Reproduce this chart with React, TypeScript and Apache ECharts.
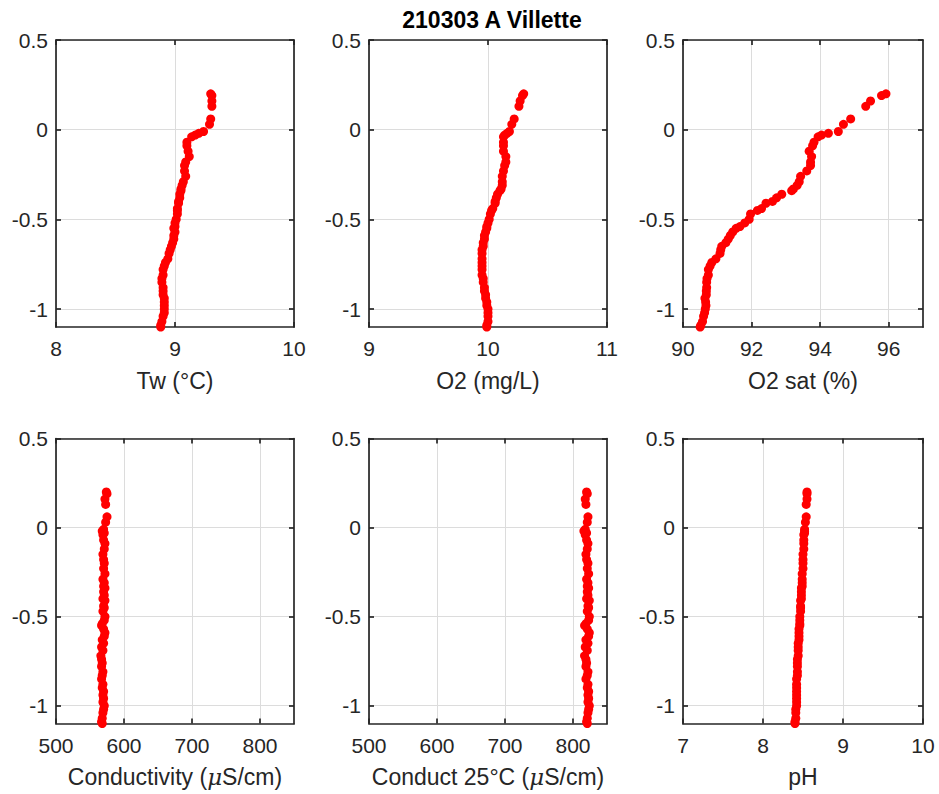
import React, { useEffect, useRef } from "react";
import * as echarts from "echarts";

const depth = [0.2, 0.19, 0.16, 0.13, 0.06, 0.03, -0.01, -0.02, -0.03, -0.04, -0.07, -0.09, -0.12, -0.15, -0.18, -0.2, -0.23, -0.26, -0.29, -0.31, -0.33, -0.34, -0.36, -0.38, -0.4, -0.41, -0.44, -0.45, -0.47, -0.5, -0.52, -0.54, -0.55, -0.57, -0.59, -0.61, -0.63, -0.65, -0.67, -0.69, -0.72, -0.74, -0.76, -0.78, -0.81, -0.83, -0.85, -0.88, -0.9, -0.92, -0.94, -0.96, -0.98, -1.0, -1.02, -1.04, -1.07, -1.09, -1.1];

const tw = [9.3, 9.31, 9.31, 9.31, 9.3, 9.29, 9.24, 9.2, 9.17, 9.14, 9.1, 9.1, 9.11, 9.12, 9.09, 9.08, 9.08, 9.09, 9.07, 9.06, 9.05, 9.05, 9.04, 9.04, 9.03, 9.03, 9.02, 9.02, 9.02, 9.01, 9.0, 9.0, 8.99, 9.0, 8.99, 8.99, 8.98, 8.97, 8.96, 8.95, 8.94, 8.92, 8.91, 8.9, 8.9, 8.89, 8.89, 8.9, 8.9, 8.9, 8.91, 8.91, 8.91, 8.91, 8.91, 8.9, 8.89, 8.88, 8.88];

const o2 = [10.3, 10.29, 10.27, 10.26, 10.22, 10.2, 10.18, 10.16, 10.14, 10.13, 10.13, 10.13, 10.13, 10.15, 10.15, 10.14, 10.13, 10.12, 10.12, 10.12, 10.11, 10.1, 10.08, 10.07, 10.06, 10.06, 10.04, 10.03, 10.02, 10.01, 10.0, 9.99, 9.99, 9.98, 9.97, 9.97, 9.96, 9.96, 9.95, 9.95, 9.95, 9.95, 9.95, 9.95, 9.95, 9.96, 9.96, 9.97, 9.97, 9.98, 9.98, 9.99, 9.99, 10.0, 10.0, 10.0, 10.0, 9.99, 9.99];

const o2sat = [95.92, 95.79, 95.47, 95.33, 94.89, 94.68, 94.53, 94.24, 94.04, 93.94, 93.82, 93.78, 93.68, 93.75, 93.72, 93.72, 93.61, 93.43, 93.39, 93.33, 93.22, 93.17, 92.88, 92.73, 92.61, 92.42, 92.29, 92.17, 91.97, 91.93, 91.8, 91.66, 91.55, 91.45, 91.38, 91.32, 91.25, 91.13, 91.1, 91.08, 90.96, 90.84, 90.79, 90.74, 90.74, 90.7, 90.69, 90.69, 90.68, 90.68, 90.64, 90.66, 90.67, 90.65, 90.63, 90.6, 90.57, 90.52, 90.5];

const cond = [574, 575, 572, 573, 575, 573, 570, 568, 571, 569, 570, 572, 571, 569, 570, 571, 570, 572, 569, 571, 570, 572, 570, 571, 569, 572, 570, 571, 569, 572, 571, 568, 567, 570, 572, 571, 568, 570, 567, 569, 566, 567, 568, 567, 569, 568, 567, 569, 568, 570, 569, 570, 569, 571, 570, 569, 568, 567, 568];

const cond25 = [820, 821, 818, 819, 822, 821, 818, 816, 820, 818, 820, 822, 821, 819, 820, 822, 821, 823, 820, 822, 821, 823, 821, 822, 820, 824, 822, 823, 821, 824, 823, 819, 817, 821, 824, 823, 819, 822, 818, 821, 817, 819, 820, 819, 822, 821, 819, 822, 821, 823, 822, 823, 822, 824, 823, 822, 821, 820, 821];

const ph = [8.55, 8.55, 8.55, 8.54, 8.54, 8.53, 8.52, 8.52, 8.52, 8.51, 8.51, 8.51, 8.51, 8.5, 8.5, 8.5, 8.5, 8.49, 8.49, 8.49, 8.49, 8.48, 8.48, 8.48, 8.48, 8.47, 8.47, 8.47, 8.47, 8.46, 8.46, 8.46, 8.46, 8.45, 8.45, 8.45, 8.45, 8.44, 8.44, 8.44, 8.44, 8.43, 8.43, 8.43, 8.43, 8.43, 8.42, 8.42, 8.42, 8.42, 8.42, 8.42, 8.42, 8.42, 8.41, 8.41, 8.41, 8.4, 8.4];

const depthTicks = [-1, -0.5, 0, 0.5];
const twTicks = [8, 9, 10];
const o2Ticks = [9, 10, 11];
const satTicks = [90, 92, 94, 96];
const condTicks = [500, 600, 700, 800];
const phTicks = [7, 8, 9, 10];

const titleText = "210303 A Villette";

const panels = [
  { name: "Tw (°C)", values: tw, min: 8, max: 10, interval: 1, ticks: twTicks },
  { name: "O2 (mg/L)", values: o2, min: 9, max: 11, interval: 1, ticks: o2Ticks },
  { name: "O2 sat (%)", values: o2sat, min: 90, max: 97, interval: 2, ticks: satTicks },
  { name: "Conductivity ({mu|μ}S/cm)", values: cond, min: 500, max: 850, interval: 100, ticks: condTicks },
  { name: "Conduct 25°C ({mu|μ}S/cm)", values: cond25, min: 500, max: 850, interval: 100, ticks: condTicks },
  { name: "pH", values: ph, min: 7, max: 10, interval: 1, ticks: phTicks },
];

const FONT = "Liberation Sans, Arial, Helvetica, sans-serif";
const AX = "#262626";

export default function App() {
  const ref = useRef<HTMLDivElement>(null);
  useEffect(() => {
    if (!ref.current) return;
    const chart = echarts.init(ref.current, null, { renderer: "svg" });
    const lefts = [56, 369, 683];
    const tops = [40, 438.5];
    const heights = [287, 285];
    const W = 238;
    const grids: any[] = [];
    const xAxes: any[] = [];
    const yAxes: any[] = [];
    const series: any[] = [];
    const lineStyle = { color: AX, width: 1.7 };
    panels.forEach((p, i) => {
      const r = Math.floor(i / 3);
      const c = i % 3;
      grids.push({ left: lefts[c], top: tops[r], width: c === 2 ? 240 : W, height: heights[r], containLabel: false });
      xAxes.push({
        gridIndex: i,
        type: "value",
        position: "bottom",
        min: p.min,
        max: p.max,
        interval: p.interval,
        axisLine: { show: true, onZero: false, lineStyle },
        axisTick: { show: true, inside: true, length: 5, customValues: p.ticks, lineStyle },
        axisLabel: { customValues: p.ticks, fontSize: 21, color: AX, margin: 11, fontFamily: FONT },
        splitLine: { show: true, lineStyle: { color: "#dcdcdc", width: 1 } },
        name: p.name,
        nameLocation: "middle",
        nameGap: 42,
        nameTextStyle: {
          fontSize: 23,
          color: AX,
          fontFamily: FONT,
          rich: { mu: { fontSize: 23, fontStyle: "italic", fontFamily: "DejaVu Serif, serif", color: AX } },
        },
      });
      xAxes.push({
        gridIndex: i,
        type: "value",
        position: "top",
        min: p.min,
        max: p.max,
        interval: p.interval,
        axisLine: { show: true, onZero: false, lineStyle },
        axisTick: { show: true, inside: true, length: 5, customValues: p.ticks, lineStyle },
        axisLabel: { show: false },
        splitLine: { show: false },
      });
      yAxes.push({
        gridIndex: i,
        type: "value",
        position: "left",
        min: -1.1,
        max: 0.5,
        axisLine: { show: true, onZero: false, lineStyle },
        axisTick: { show: true, inside: true, length: 5, customValues: depthTicks, lineStyle },
        axisLabel: { customValues: depthTicks, fontSize: 21, color: AX, margin: 8, fontFamily: FONT },
        splitLine: { show: true, lineStyle: { color: "#dcdcdc", width: 1 } },
      });
      yAxes.push({
        gridIndex: i,
        type: "value",
        position: "right",
        min: -1.1,
        max: 0.5,
        axisLine: { show: true, onZero: false, lineStyle },
        axisTick: { show: true, inside: true, length: 5, customValues: depthTicks, lineStyle },
        axisLabel: { show: false },
        splitLine: { show: false },
      });
      series.push({
        type: "scatter",
        xAxisIndex: 2 * i,
        yAxisIndex: 2 * i,
        symbol: "circle",
        symbolSize: 9,
        itemStyle: { color: "#ff0000", opacity: 1 },
        data: p.values.map((v, k) => [v, depth[k]]),
      });
    });
    chart.setOption({
      animation: false,
      backgroundColor: "#ffffff",
      title: {
        text: titleText,
        left: 487,
        top: 3,
        textAlign: "center",
        textStyle: { fontSize: 23, fontWeight: "bold", color: "#000", fontFamily: FONT },
      },
      grid: grids,
      xAxis: xAxes,
      yAxis: yAxes,
      series,
    });
    return () => chart.dispose();
  }, []);
  return (
    <div
      ref={ref}
      style={{ position: "absolute", left: 0, top: 0, width: 939, height: 794, background: "#fff" }}
    />
  );
}
